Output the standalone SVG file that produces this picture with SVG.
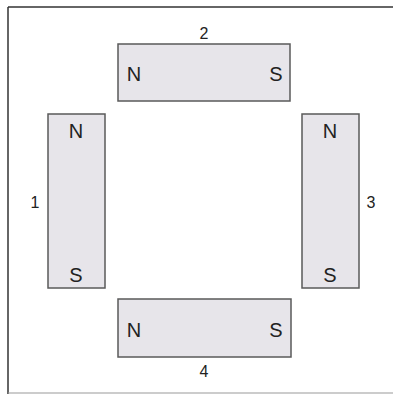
<svg xmlns="http://www.w3.org/2000/svg" width="393" height="394" viewBox="0 0 393 394">
<style>
.mag{fill:#e7e5ea;stroke:#5a5a5a;stroke-width:1.5}
.pole{font-family:"Liberation Sans",Arial,sans-serif;font-size:20px;fill:#222;text-anchor:middle}
.num{font-family:"Liberation Sans",Arial,sans-serif;font-size:16px;fill:#222;text-anchor:middle}
</style>
<rect width="393" height="394" fill="#fff"/>
<g id="frame">
<line x1="8" y1="7" x2="393" y2="7" stroke="#333" stroke-width="1.5"/>
<line x1="8" y1="7" x2="8" y2="394" stroke="#333" stroke-width="1.5"/>
<line x1="8" y1="393" x2="393" y2="393" stroke="#999" stroke-width="1"/>
</g>
<g id="magnet2">
<rect class="mag" x="118" y="44" width="172" height="57"/>
<text class="pole" x="134" y="81">N</text>
<text class="pole" x="276" y="81">S</text>
<text class="num" x="204" y="39">2</text>
</g>
<g id="magnet1">
<rect class="mag" x="48" y="114" width="57" height="174"/>
<text class="pole" x="76" y="138">N</text>
<text class="pole" x="76" y="282">S</text>
<text class="num" x="35" y="208">1</text>
</g>
<g id="magnet3">
<rect class="mag" x="302" y="114" width="57" height="174"/>
<text class="pole" x="330" y="138">N</text>
<text class="pole" x="330" y="282">S</text>
<text class="num" x="371" y="208">3</text>
</g>
<g id="magnet4">
<rect class="mag" x="118" y="299" width="173" height="58"/>
<text class="pole" x="134" y="337">N</text>
<text class="pole" x="276" y="337">S</text>
<text class="num" x="204" y="377">4</text>
</g>
<g id="connectors"/>
</svg>
